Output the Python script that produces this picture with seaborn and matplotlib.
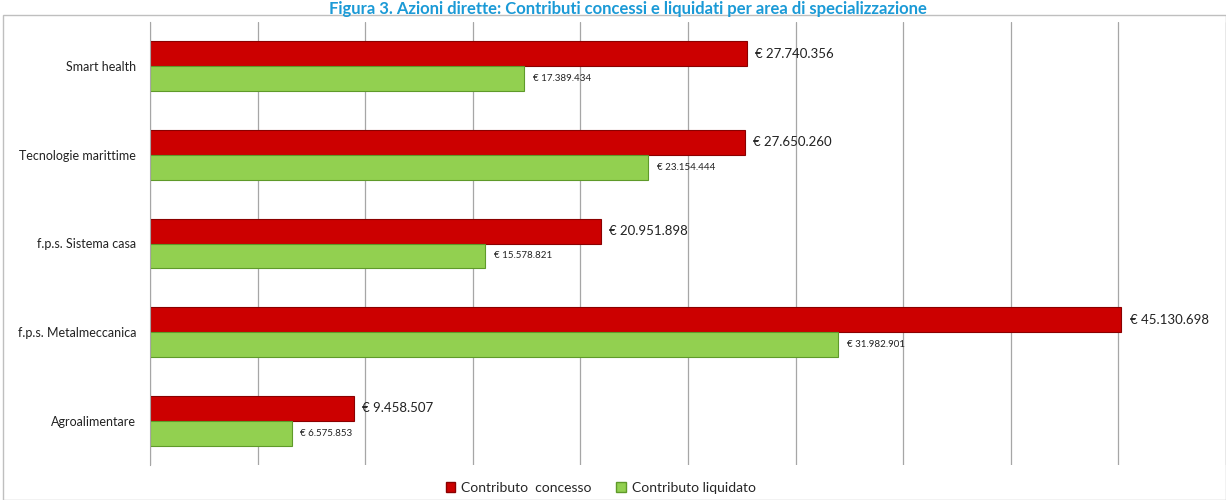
import pandas as pd
import matplotlib
matplotlib.use("Agg")
import matplotlib.pyplot as plt
import matplotlib.patches as mpatches
import seaborn as sns

# data
aree = ['Smart health', 'Tecnologie marittime', 'f.p.s. Sistema casa',
        'f.p.s. Metalmeccanica', 'Agroalimentare']
concesso = [27740356, 27650260, 20951898, 45130698, 9458507]
liquidato = [17389434, 23154444, 15578821, 31982901, 6575853]
serie = ['Contributo  concesso', 'Contributo liquidato']
colori = ['#cc0000', '#92d050']
bordi = ['#8a0000', '#5f9a2a']
titolo = 'Figura 3. Azioni dirette: Contributi concessi e liquidati per area di specializzazione'

df = pd.DataFrame({
    'area': aree * 2,
    'valore': concesso + liquidato,
    'serie': [serie[0]] * len(aree) + [serie[1]] * len(aree),
})

sns.set_style('white')
plt.rcParams['font.family'] = ['Lato', 'DejaVu Sans']

fig = plt.figure(figsize=(12.26, 5), dpi=100)
ax = fig.add_axes([150 / 1226, 1 - 465 / 500, 1076 / 1226, 443 / 500])

sns.barplot(data=df, y='area', x='valore', hue='serie', order=aree,
            hue_order=serie, palette=colori, width=0.56, orient='h',
            saturation=1, ax=ax, legend=False)

for i, cont in enumerate(ax.containers):
    for bar in cont:
        bar.set_edgecolor(bordi[i])
        bar.set_linewidth(0.8)
    vals = concesso if i == 0 else liquidato
    labels = ['€ ' + f'{v:,}'.replace(',', '.') for v in vals]
    ax.bar_label(cont, labels=labels, padding=6,
                 fontsize=9.5 if i == 0 else 7, color='#222222')

ax.set_xlim(0, 50000000)
ax.set_xticks(range(0, 50000001, 5000000))
ax.set_xticklabels([])
ax.tick_params(axis='x', length=0)
ax.grid(axis='x', color='#a6a6a6', linewidth=0.9)
ax.set_axisbelow(True)
ax.set_ylim(len(aree) - 0.5, -0.5)
ax.set_xlabel('')
ax.set_ylabel('')
ax.tick_params(axis='y', length=0, labelsize=9, pad=10, labelcolor='#222222')
ax.set_yticks([i + 0.5 for i in range(-1, len(aree))], minor=True)
ax.tick_params(axis='y', which='minor', length=4, color='#a6a6a6')
for s in ['top', 'right', 'bottom']:
    ax.spines[s].set_visible(False)
ax.spines['left'].set_color('#a6a6a6')

handles = [mpatches.Patch(facecolor=c, edgecolor=b, label=s)
           for c, b, s in zip(colori, bordi, serie)]
fig.legend(handles=handles, loc='center', bbox_to_anchor=(0.49, 1 - 488 / 500),
           ncol=2, frameon=False, fontsize=10, handlelength=0.7,
           handleheight=0.7, handletextpad=0.4, columnspacing=1.8)

fig.patches.append(mpatches.Rectangle((3 / 1226, 0), 1 - 3 / 1226, 1 - 15 / 500,
                                      transform=fig.transFigure, fill=False,
                                      edgecolor='#bfbfbf', linewidth=1))
fig.text(0.512, 1 - 1 / 500, titolo, ha='center', va='top',
         fontsize=12, fontweight='bold', color='#1b9ad6')

fig.savefig('out.png', dpi=100)
